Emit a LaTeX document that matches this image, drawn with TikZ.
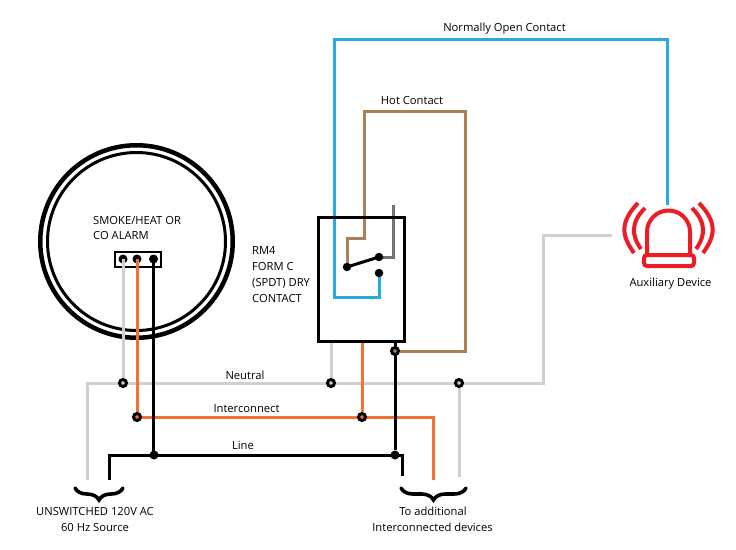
\documentclass[tikz,border=0pt]{standalone}
\usepackage{fontspec}
\setmainfont{Open Sans}
\usetikzlibrary{decorations.pathreplacing}
\definecolor{wblue}{RGB}{41,171,226}
\definecolor{wbrown}{RGB}{170,127,88}
\definecolor{wgray}{RGB}{208,208,208}
\definecolor{wdark}{RGB}{115,115,118}
\definecolor{worange}{RGB}{243,112,50}
\definecolor{wred}{RGB}{237,28,36}
\pgfdeclarelayer{under}
\pgfdeclarelayer{wires}
\pgfsetlayers{under,wires,main}
\tikzset{
	lbl/.style={inner sep=0pt,font=\fontsize{11.2}{15.8}\selectfont,align=center},
	lbll/.style={lbl,align=left},
	wire/.style={line width=3pt,line join=miter},
	tap/.style={circle,draw=black,line width=3pt,minimum size=7pt,inner sep=0pt,fill=#1},
	blob/.style={circle,fill=black,minimum size=#1,inner sep=0pt},
	curly/.style={decorate,decoration={brace,mirror,amplitude=12pt,aspect=0.5},line width=3.6pt,line cap=round},
}
\begin{document}
\begin{tikzpicture}[x=1pt,y=-1pt]
	\useasboundingbox (0,0) rectangle (736,549);

	% alarm
	\begin{pgfonlayer}{under}
	\node at (136.5,241.5)(ringout)[circle,draw=black,line width=4.5pt,minimum size=192.5pt,inner sep=0pt,outer sep=0pt]{};
	\node at (136.5,241.5)(ringin)[circle,draw=black,line width=3pt,minimum size=178pt,inner sep=0pt,outer sep=0pt]{};
	\node at (138,259)(block)[draw=black,line width=2pt,minimum width=46pt,minimum height=15pt,inner sep=0pt]{};
	\node at (123,259)(t1)[blob=9pt]{};
	\node at (137,259)(t2)[blob=9pt]{};
	\node at (153.5,259)(t3)[blob=9pt]{};
	\end{pgfonlayer}
	\node at (93,228)(alarmtxt)[lbll,anchor=west]{SMOKE/HEAT OR\\CO ALARM};

	% relay
	\node at (361,279)(relay)[draw=black,line width=3pt,minimum width=86pt,minimum height=124pt,inner sep=0pt,outer sep=0pt]{};
	\node at (252,274.5)(relaytxt)[lbll,anchor=west]{RM4\\FORM C\\(SPDT) DRY\\CONTACT};

	% contacts
	\node at (347,267)(pivot)[blob=8.5pt]{};
	\node at (379,257)(nc)[blob=8.5pt]{};
	\node at (379,273)(no)[blob=8.5pt]{};
	\coordinate (ncend) at (393,205);
	\coordinate (hota) at (347,238);
	\coordinate (hotb) at (364,238);
	\coordinate (hotc) at (364,111);
	\coordinate (hotd) at (465,111);
	\coordinate (hote) at (465,351);
	\coordinate (noa) at (379,297);
	\coordinate (nob) at (334,297);
	\coordinate (noc) at (334,39);
	\coordinate (nod) at (667,39);
	\coordinate (noe) at (667,205);

	% junctions
	\node at (123,383)(n1)[tap=wgray]{};
	\node at (331,383)(n2)[tap=wgray]{};
	\node at (459,383)(n3)[tap=wgray]{};
	\node at (137,417)(i1)[tap=worange]{};
	\node at (362,417)(i2)[tap=worange]{};
	\node at (395,351)(h1)[tap=wbrown]{};
	\node at (154,455)(l1)[blob=9pt]{};
	\node at (395,455)(l2)[blob=9pt]{};

	% free ends
	\coordinate (neua) at (87,480);
	\coordinate (neub) at (87,383);
	\coordinate (neuc) at (543,383);
	\coordinate (neud) at (543,235);
	\coordinate (neue) at (612,235);
	\coordinate (neuf) at (459,477);
	\coordinate (inta) at (433,417);
	\coordinate (intb) at (433,480);
	\coordinate (lina) at (109,480);
	\coordinate (linb) at (109,455);
	\coordinate (linc) at (402,455);
	\coordinate (lind) at (402,476);

	% wires
	\begin{pgfonlayer}{wires}
	\draw[wire,wgray] (neua)--(neub)--(neuc)--(neud)--(neue);
	\draw[wire,wgray] (t1.center)--(n1);
	\draw[wire,wgray] (relay.south-|n2)--(n2);
	\draw[wire,wgray] (n3)--(neuf);
	\draw[wire,worange] (t2.center)--(i1.center)--(inta)--(intb);
	\draw[wire,worange] (relay.south-|i2)--(i2);
	\draw[wire,black] (t3.center)--(t3|-l1);
	\draw[wire,black] (lina)--(linb)--(linc)--(lind);
	\draw[wire,black] (relay.south-|l2)--(l2);
	\draw[wire,wblue] (no.center)--(noa)--(nob)--(noc)--(nod)--(noe);
	\draw[wire,wbrown] (pivot.center)--(hota)--(hotb)--(hotc)--(hotd)--(hote)--(h1);
	\draw[wire,wdark] (nc.center)-|(ncend);
	\end{pgfonlayer}
	\draw[wire,black] (pivot.center)--(nc.center);

	% siren
	\begin{scope}[wred,line width=4pt]
	\draw (647,254)--(647,232) arc[start angle=180,end angle=360,radius=21.5]--(690,254);
	\draw[rounded corners=3pt] (644,255) rectangle (694,266);
	\draw (638,203) .. controls (620,222) and (621,235) .. (634,253);
	\draw (645,208) .. controls (631,222) and (631,235) .. (641,249);
	\draw (699,203) .. controls (717,222) and (716,235) .. (703,253);
	\draw (692,208) .. controls (706,222) and (706,235) .. (696,249);
	\end{scope}
	\node at (670.5,284)(auxtxt)[lbl]{Auxiliary Device};

	% wire labels
	\node at (504.5,29)(notxt)[lbl]{Normally Open Contact};
	\node at (412,100)(hottxt)[lbl]{Hot Contact};
	\node at (245,375)(neutxt)[lbl]{Neutral};
	\node at (246.5,409)(inttxt)[lbl]{Interconnect};
	\node at (243,445)(lintxt)[lbl]{Line};

	% braces
	\coordinate (brla) at (75,488);
	\coordinate (brlb) at (123,488);
	\coordinate (brra) at (401,488);
	\coordinate (brrb) at (466,488);
	\draw[curly] (brla)--(brlb);
	\draw[curly] (brra)--(brrb);
	\node at (95,511)(srctxt)[lbl]{UNSWITCHED 120V AC};
	\node at (95,527)(srctxtb)[lbl]{60 Hz Source};
	\node at (433,511)(addtxt)[lbl]{To additional};
	\node at (432.5,527)(addtxtb)[lbl]{Interconnected devices};
\end{tikzpicture}
\end{document}
